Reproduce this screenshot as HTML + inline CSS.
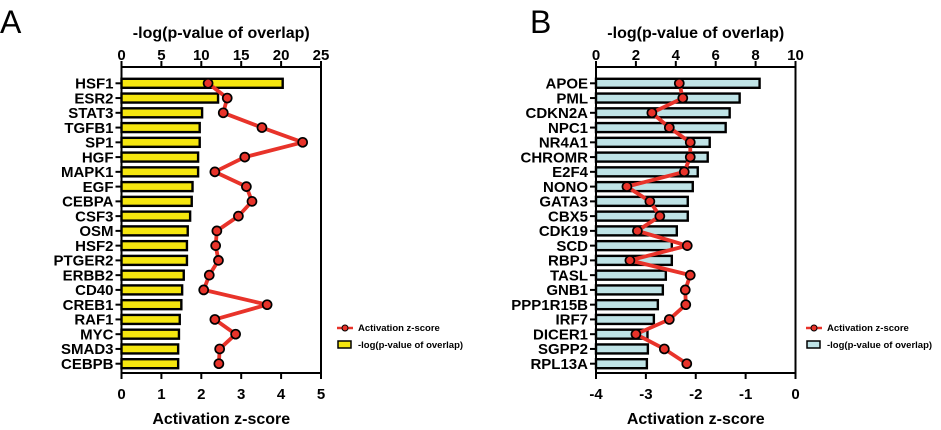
<!DOCTYPE html>
<html><head><meta charset="utf-8">
<style>
body{margin:0;background:#fff;}
svg{display:block;font-family:"Liberation Sans",Arial,sans-serif;font-weight:bold;}
</style></head>
<body>
<svg id="chart" width="941" height="430" viewBox="0 0 941 430" xmlns="http://www.w3.org/2000/svg">
<text x="0" y="33" font-size="32" font-weight="normal">A</text>
<text x="530" y="33" font-size="32" font-weight="normal">B</text>
<g id="pa"></g>
<g id="pb"></g>
</svg>
<script>
const catsA=["HSF1","ESR2","STAT3","TGFB1","SP1","HGF","MAPK1","EGF","CEBPA","CSF3","OSM","HSF2","PTGER2","ERBB2","CD40","CREB1","RAF1","MYC","SMAD3","CEBPB"];
const logA=[20.2,12.1,10.1,9.8,9.8,9.6,9.6,8.9,8.8,8.6,8.3,8.2,8.2,7.8,7.6,7.5,7.3,7.2,7.1,7.1];
const zA=[2.17,2.65,2.55,3.52,4.54,3.09,2.34,3.13,3.27,2.93,2.39,2.36,2.43,2.2,2.06,3.65,2.34,2.86,2.46,2.44];
const topTicksA=[0,5,10,15,20,25];
const botTicksA=[0,1,2,3,4,5];
const catsB=["APOE","PML","CDKN2A","NPC1","NR4A1","CHROMR","E2F4","NONO","GATA3","CBX5","CDK19","SCD","RBPJ","TASL","GNB1","PPP1R15B","IRF7","DICER1","SGPP2","RPL13A"];
const logB=[8.2,7.2,6.7,6.5,5.7,5.6,5.1,4.85,4.6,4.6,4.05,3.8,3.8,3.5,3.35,3.1,2.9,2.58,2.6,2.55];
const zB=[-2.33,-2.26,-2.88,-2.53,-2.11,-2.11,-2.23,-3.38,-2.92,-2.72,-3.17,-2.17,-3.32,-2.11,-2.21,-2.2,-2.53,-3.2,-2.63,-2.18];
const topTicksB=[0,2,4,6,8,10];
const botTicksB=[-4,-3,-2,-1,0];
const NS="http://www.w3.org/2000/svg";
function mk(p,t,a){const e=document.createElementNS(NS,t);for(const k in a)e.setAttribute(k,a[k]);p.appendChild(e);return e;}
function panel(g,o){
  const x0=o.x0,x1=o.x1,yTop=67,yBot=373,r0=83.3,dr=(363.7-83.3)/19;
  const sx=v=>x0+(v-o.lmin)/(o.lmax-o.lmin)*(x1-x0);
  const sz=v=>x0+(v-o.zmin)/(o.zmax-o.zmin)*(x1-x0);
  const sy=i=>r0+i*dr;
  o.cats.forEach((c,i)=>{
    const b=mk(g,'rect',{x:x0,y:sy(i)-4.5,width:sx(o.log[i])-x0,height:9,fill:o.fill,stroke:'#000','stroke-width':2.4});
    
    
    mk(g,'line',{x1:x0-6,x2:x0,y1:sy(i),y2:sy(i),stroke:'#000','stroke-width':2});
    const t=mk(g,'text',{x:x0-8,y:sy(i)+5.3,'text-anchor':'end','font-size':15});
    t.textContent=c;
    
    
  });
  mk(g,'line',{x1:x0,x2:x0,y1:yTop,y2:yBot,stroke:'#000','stroke-width':2});
  mk(g,'line',{x1:x1,x2:x1,y1:yTop,y2:yBot,stroke:'#000','stroke-width':2});
  mk(g,'line',{x1:x0-1,x2:x1+1,y1:yTop,y2:yTop,stroke:'#000','stroke-width':2});
  mk(g,'line',{x1:x0-1,x2:x1+1,y1:yBot,y2:yBot,stroke:'#000','stroke-width':2});
  o.tt.forEach(v=>{mk(g,'line',{x1:sx(v),x2:sx(v),y1:yTop,y2:yTop-6,stroke:'#000','stroke-width':2});
    const t=mk(g,'text',{x:sx(v),y:60,'text-anchor':'middle','font-size':15});t.textContent=v;
    
    });
  o.bt.forEach(v=>{mk(g,'line',{x1:sz(v),x2:sz(v),y1:yBot,y2:yBot+6,stroke:'#000','stroke-width':2});
    const t=mk(g,'text',{x:sz(v),y:399,'text-anchor':'middle','font-size':15});t.textContent=v;
    
    });
  const tt=mk(g,'text',{x:(x0+x1)/2,y:38,'text-anchor':'middle','font-size':16});tt.textContent='-log(p-value of overlap)';
  
  
  const bt=mk(g,'text',{x:(x0+x1)/2,y:424,'text-anchor':'middle','font-size':16});bt.textContent='Activation z-score';
  
  
  const pts=o.z.map((v,i)=>sz(v)+','+sy(i)).join(' ');
  const pl=mk(g,'polyline',{points:pts,fill:'none',stroke:'#e8332a','stroke-width':3.8,'stroke-linejoin':'round'});
  
  
  o.z.forEach((v,i)=>{const c=mk(g,'circle',{cx:sz(v),cy:sy(i),r:4.5,fill:'#e8332a',stroke:'#000','stroke-width':1.7});
    
    });
  const L=o.lx;
  mk(g,'line',{x1:L,x2:L+16,y1:328,y2:328,stroke:'#e8332a','stroke-width':2.5});
  mk(g,'circle',{cx:L+8,cy:328,r:3,fill:'#e8332a',stroke:'#000','stroke-width':1});
  const l1=mk(g,'text',{x:L+21,y:331,'font-size':9.5});l1.textContent='Activation z-score';
  
  
  mk(g,'rect',{x:L+1,y:341,width:13,height:7,fill:o.fill,stroke:'#000','stroke-width':1.5});
  const l2=mk(g,'text',{x:L+21,y:348,'font-size':9.5});l2.textContent='-log(p-value of overlap)';
  
  
}
panel(document.getElementById('pa'),{x0:121.5,x1:321,lmin:0,lmax:25,zmin:0,zmax:5,cats:catsA,log:logA,z:zA,tt:topTicksA,bt:botTicksA,fill:'#f5e60f',lx:337});
panel(document.getElementById('pb'),{x0:596,x1:795.5,lmin:0,lmax:10,zmin:-4,zmax:0,cats:catsB,log:logB,z:zB,tt:topTicksB,bt:botTicksB,fill:'#bfe3e6',lx:806});
</script>
</body></html>
